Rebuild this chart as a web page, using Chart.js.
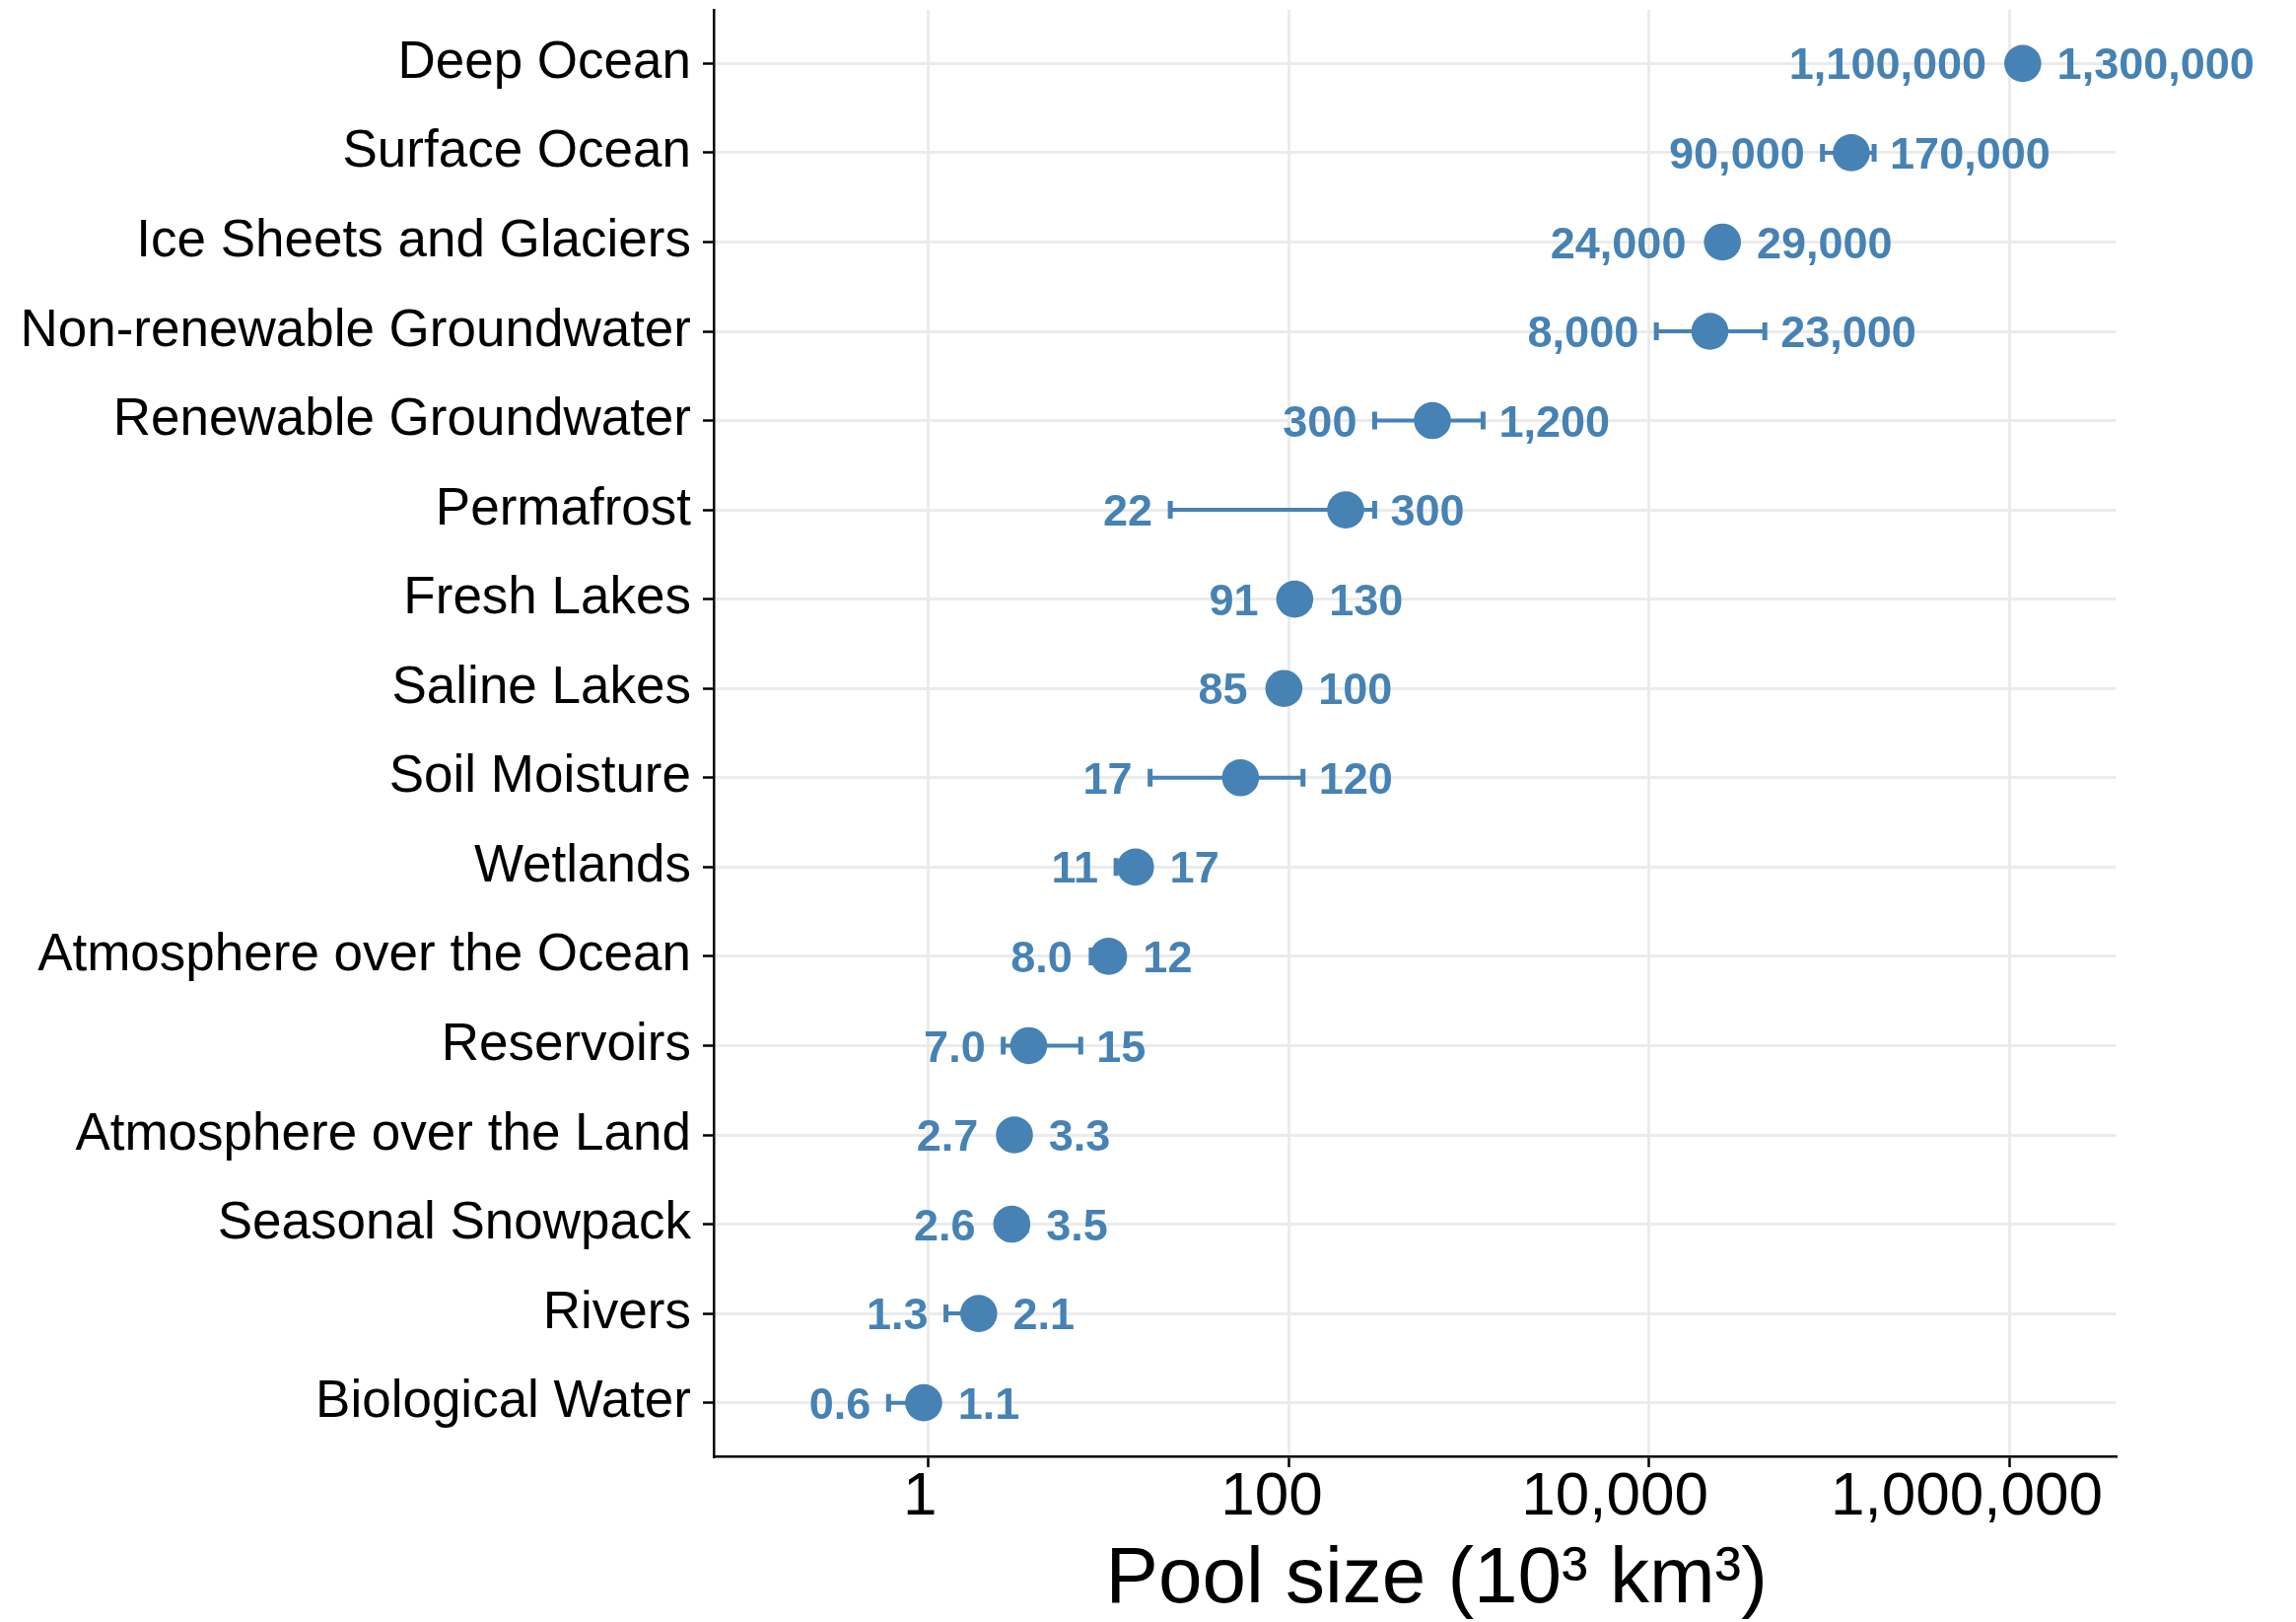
<!DOCTYPE html>
<html>
<head>
<meta charset="utf-8">
<script src="https://cdn.jsdelivr.net/npm/chart.js@4"></script>
<style>
  body { margin: 0; background: #fff; }
  #wrap { width: 2329px; height: 1645px; }
</style>
</head>
<body>
<div id="wrap"><canvas id="poolChart"></canvas></div>
<script>
// water pools, top to bottom
var pools = ["Deep Ocean", "Surface Ocean", "Ice Sheets and Glaciers", "Non-renewable Groundwater",
    "Renewable Groundwater", "Permafrost", "Fresh Lakes", "Saline Lakes", "Soil Moisture", "Wetlands",
    "Atmosphere over the Ocean", "Reservoirs", "Atmosphere over the Land", "Seasonal Snowpack",
    "Rivers", "Biological Water"];

// central estimate (10^3 km^3)
var poolSize = [1190000, 133000, 25600, 21800, 628, 207, 108, 94, 54, 14.1, 10.0, 3.6, 3.0, 2.9, 1.9, 0.94];

// error bar ends as drawn
var rangeLow  = [1100000, 92000, 24000, 11000, 300, 22, 91, 85, 17, 11, 8.0, 2.6, 2.7, 2.6, 1.25, 0.6];
var rangeHigh = [1300000, 178000, 29000, 44000, 1200, 300, 130, 100, 120, 17, 12, 7.0, 3.3, 3.5, 2.1, 1.1];

// printed min / max labels
var lowLabel  = [1100000, 90000, 24000, 8000, 300, 22, 91, 85, 17, 11, 8.0, 7.0, 2.7, 2.6, 1.3, 0.6];
var highLabel = [1300000, 170000, 29000, 23000, 1200, 300, 130, 100, 120, 17, 12, 15, 3.3, 3.5, 2.1, 1.1];

var xTicks = [1, 100, 10000, 1000000];

var blue = '#4682B4';
var pointR = 18.8;
var fontFam = '"Liberation Sans", Arial, sans-serif';

function fmt(v) {
    if (v < 10) return v.toFixed(1);
    return v.toLocaleString('en-US');
}

var points = [];
for (var i in pools) {
    points.push({x: poolSize[i], y: Number(i)});
}

// whiskers under the points
var errorBars = {
    id: 'errorBars',
    beforeDatasetsDraw: function (chart) {
        var ctx = chart.ctx, xs = chart.scales.x, ys = chart.scales.y;
        ctx.save();
        ctx.strokeStyle = blue;
        for (var i = 0; i < pools.length; i++) {
            var y = ys.getPixelForValue(i);
            var x0 = xs.getPixelForValue(rangeLow[i]);
            var x1 = xs.getPixelForValue(rangeHigh[i]);
            ctx.lineWidth = 4;
            ctx.beginPath();
            ctx.moveTo(x0, y); ctx.lineTo(x1, y);
            ctx.stroke();
            ctx.lineWidth = 5;
            ctx.beginPath();
            ctx.moveTo(x0, y - 9); ctx.lineTo(x0, y + 9);
            ctx.moveTo(x1, y - 9); ctx.lineTo(x1, y + 9);
            ctx.stroke();
        }
        ctx.restore();
    }
};

// min label on the left, max label on the right
var rangeLabels = {
    id: 'rangeLabels',
    afterDatasetsDraw: function (chart) {
        var ctx = chart.ctx, xs = chart.scales.x, ys = chart.scales.y;
        var fs = 45;
        ctx.save();
        ctx.fillStyle = blue;
        ctx.font = 'bold ' + fs + 'px ' + fontFam;
        ctx.textBaseline = 'alphabetic';
        for (var i = 0; i < pools.length; i++) {
            var y = ys.getPixelForValue(i) + fs * 0.358;
            var xc = xs.getPixelForValue(poolSize[i]);
            var left = Math.min(xs.getPixelForValue(rangeLow[i]), xc - pointR);
            var right = Math.max(xs.getPixelForValue(rangeHigh[i]), xc + pointR);
            ctx.textAlign = 'right';
            ctx.fillText(fmt(lowLabel[i]), left - 18, y);
            ctx.textAlign = 'left';
            ctx.fillText(fmt(highLabel[i]), right + 16, y);
        }
        ctx.restore();
    }
};

var ctx = document.getElementById('poolChart').getContext('2d');
var myChart = new Chart(ctx, {
    type: 'scatter',
    data: {
        datasets: [{
            data: points,
            pointRadius: pointR,
            pointHoverRadius: pointR,
            pointBackgroundColor: blue,
            pointBorderWidth: 0,
            showLine: false
        }]
    },
    options: {
        responsive: true,
        maintainAspectRatio: false,
        animation: false,
        events: [],
        layout: { autoPadding: false, padding: { top: 10, right: 183, left: 0, bottom: 0 } },
        plugins: {
            legend: { display: false },
            tooltip: { enabled: false }
        },
        scales: {
            x: {
                type: 'logarithmic',
                min: 0.0642,
                max: 3.9e6,
                afterBuildTicks: function (scale) {
                    scale.ticks = xTicks.map(function (v) { return {value: v}; });
                },
                afterFit: function (scale) {
                    scale.height = 168;
                    scale.paddingLeft = 0;
                    scale.paddingRight = 0;
                },
                grid: { color: '#EBEBEB', lineWidth: 3, tickColor: '#000', tickWidth: 2.5, tickLength: 11 },
                border: { color: '#000', width: 2.5 },
                ticks: {
                    color: '#000',
                    padding: 0,
                    maxRotation: 0,
                    font: { family: fontFam, size: 62, lineHeight: 1 },
                    callback: function (v) {
                        var s = v.toLocaleString('en-US');
                        // labels sit a little left of their ticks in the original
                        return s + ' '.repeat(Math.round(s.length * 0.6));
                    }
                },
                title: {
                    display: true,
                    text: '  Pool size (10³ km³)',
                    color: '#000',
                    padding: { top: 0, bottom: -6 },
                    font: { family: fontFam, size: 80 }
                }
            },
            y: {
                type: 'linear',
                reverse: true,
                min: -0.6,
                max: pools.length - 0.4,
                afterBuildTicks: function (scale) {
                    scale.ticks = pools.map(function (p, i) { return {value: i}; });
                },
                afterFit: function (scale) {
                    scale.width = 724;
                    scale.paddingTop = 0;
                    scale.paddingBottom = 0;
                },
                grid: { color: '#EBEBEB', lineWidth: 3, tickColor: '#000', tickWidth: 2.5, tickLength: 11 },
                border: { color: '#000', width: 2.5 },
                ticks: {
                    color: '#000',
                    padding: 12,
                    font: { family: fontFam, size: 53 },
                    callback: function (v) { return pools[v]; }
                }
            }
        }
    },
    plugins: [errorBars, rangeLabels]
});
</script>
</body>
</html>
